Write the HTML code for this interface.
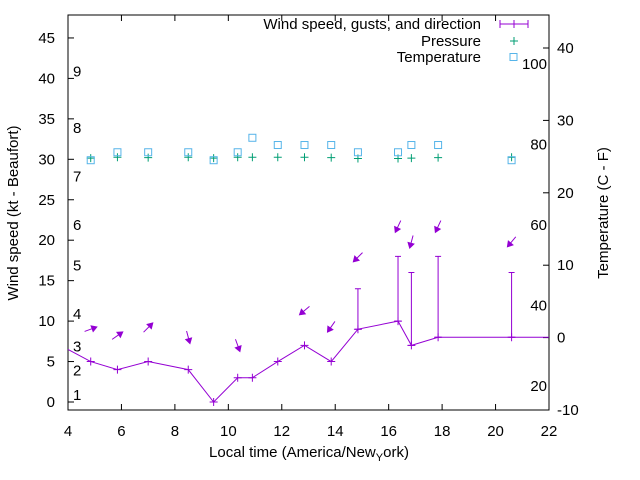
<!DOCTYPE html>
<html><head><meta charset="utf-8"><style>
html,body{margin:0;padding:0;background:#fff;}
svg{display:block;font-family:"Liberation Sans",sans-serif;}
</style></head><body>
<svg id="chart" width="640" height="480" viewBox="0 0 640 480">
<rect x="0" y="0" width="640" height="480" fill="#fff"/>
<g id="axes"></g>
<g id="marks"></g>
<text x="0" y="0" transform="translate(18,213) rotate(-90)" text-anchor="middle" font-size="15" fill="#000">Wind speed (kt - Beaufort)</text>
<text x="0" y="0" transform="translate(608,213) rotate(-90)" text-anchor="middle" font-size="15" fill="#000">Temperature (C - F)</text>
<text x="309" y="457" text-anchor="middle" font-size="15" fill="#000">Local time (America/New<tspan font-size="11" dy="4">Y</tspan><tspan dy="-4">ork)</tspan></text>
<g>
<text x="481" y="29" text-anchor="end" font-size="15">Wind speed, gusts, and direction</text>
<line x1="500" y1="24" x2="528" y2="24" stroke="#9400d3" stroke-width="1"/>
<line x1="500" y1="20" x2="500" y2="28" stroke="#9400d3"/>
<line x1="528" y1="20" x2="528" y2="28" stroke="#9400d3"/>
<path d="M510,24h8M514,20v8" stroke="#9400d3"/>
<text x="481" y="46" text-anchor="end" font-size="15">Pressure</text>
<path d="M510,41h8M514,37v8" stroke="#009e73"/>
<text x="481" y="62" text-anchor="end" font-size="15">Temperature</text>
<rect x="510" y="53.5" width="7" height="7" fill="none" stroke="#56b4e9"/>
</g>
</svg>
<script>
const times = [4.0, 4.85, 5.85, 7.0, 8.5, 9.45, 10.35, 10.9, 11.85, 12.85, 13.85, 14.85, 16.35, 16.85, 17.85, 20.6, 22.0];
const windKt = [6.5, 5, 4, 5, 4, 0, 3, 3, 5, 7, 5, 9, 10, 7, 8, 8, 8];
const gustTimes = [14.85, 16.35, 16.85, 17.85, 20.6];
const gustBase = [9, 10, 7, 8, 8];
const gustKt = [14, 18, 16, 18, 16];
const arrowTimes = [4.85, 5.85, 7.0, 8.5, 10.35, 12.85, 13.85, 14.85, 16.35, 16.85, 17.85, 20.6];
const arrowKt = [9.0, 8.2, 9.2, 8.0, 7.0, 11.3, 9.3, 17.9, 21.7, 19.8, 21.7, 19.8];
const arrowDeg = [70, 55, 45, 165, 160, 230, 215, 225, 205, 195, 205, 220];
const obsTimes = [4.85, 5.85, 7.0, 8.5, 9.45, 10.35, 10.9, 11.85, 12.85, 13.85, 14.85, 16.35, 16.85, 17.85, 20.6];
const pressure = [30.15, 30.25, 30.2, 30.25, 30.15, 30.25, 30.25, 30.25, 30.25, 30.2, 30.1, 30.1, 30.15, 30.2, 30.25];
const tempC = [24.5, 25.6, 25.6, 25.6, 24.5, 25.6, 27.6, 26.6, 26.6, 26.6, 25.6, 25.6, 26.6, 26.6, 24.5];
const xTicks = [4, 6, 8, 10, 12, 14, 16, 18, 20, 22];
const yTicks = [0, 5, 10, 15, 20, 25, 30, 35, 40, 45];
const y2Ticks = [-10, 0, 10, 20, 30, 40];
const fLabels = [20, 40, 60, 80, 100];
const beaufortKt = [1, 4, 7, 11, 17, 22, 28, 34, 41];

const L = 68, R = 549, T = 15, B = 410;
const xs = t => L + (t - 4) / 18 * (R - L);
const ys = v => 402 - v * 8.09;
const y2 = c => 337.6 - c * 7.24;
const NS = "http://www.w3.org/2000/svg";
const axes = document.getElementById('axes');
const marks = document.getElementById('marks');
function mk(tag, attrs, parent) {
  const e = document.createElementNS(NS, tag);
  for (const k in attrs) e.setAttribute(k, attrs[k]);
  parent.appendChild(e);
  return e;
}
const frame = mk('rect', {x: L, y: T, width: R - L, height: B - T, fill: 'none', stroke: '#000'}, axes);


xTicks.forEach(t => {
  const x = xs(t);
  const tk = mk('path', {d: `M${x},${B}v-6M${x},${T}v6`, stroke: '#000'}, axes);
  
  
  const lb = mk('text', {x: x, y: 436, 'text-anchor': 'middle', 'font-size': 15}, axes);
  lb.textContent = t;
  
  
});
yTicks.forEach(v => {
  const y = ys(v);
  const tk = mk('path', {d: `M${L},${y}h6`, stroke: '#000'}, axes);
  
  
  const lb = mk('text', {x: 55, y: y + 5, 'text-anchor': 'end', 'font-size': 15}, axes);
  lb.textContent = v;
  
  
});
y2Ticks.forEach(c => {
  const y = y2(c);
  const tk = mk('path', {d: `M${R},${y}h-6`, stroke: '#000'}, axes);
  
  
  const lb = mk('text', {x: 557, y: y + 5, 'text-anchor': 'start', 'font-size': 15}, axes);
  lb.textContent = c;
  
  
});
fLabels.forEach(f => {
  const y = y2((f - 32) * 5 / 9);
  const lb = mk('text', {x: 547, y: y + 5, 'text-anchor': 'end', 'font-size': 15}, axes);
  lb.textContent = f;
  
  
});
beaufortKt.forEach((k, i) => {
  const lb = mk('text', {x: 73, y: ys(k) + 6, 'text-anchor': 'start', 'font-size': 15}, axes);
  lb.textContent = i + 1;
  
  
});
// wind line
const pts = times.map((t, i) => `${xs(t)},${ys(windKt[i])}`).join(' ');
const line = mk('polyline', {points: pts, fill: 'none', stroke: '#9400d3', 'stroke-width': 1}, marks);


times.forEach((t, i) => {
  if (t <= 4 || t >= 22) return;
  const x = xs(t), y = ys(windKt[i]);
  const p = mk('path', {d: `M${x-4},${y}h8M${x},${y-4}v8`, stroke: '#9400d3'}, marks);
  
  
});
gustTimes.forEach((t, i) => {
  const x = xs(t), yb = ys(gustBase[i]), yg = ys(gustKt[i]);
  const g = mk('path', {d: `M${x},${yb}V${yg}M${x-3},${yg}h6M${x-3},${yb}h6`, stroke: '#9400d3'}, marks);
  
  
});
arrowTimes.forEach((t, i) => {
  const cx = xs(t), cy = ys(arrowKt[i]);
  const a = arrowDeg[i] * Math.PI / 180;
  const dx = Math.sin(a), dy = -Math.cos(a);
  const len = 13;
  const x1 = cx - dx * len / 2, y1 = cy - dy * len / 2;
  const x2 = cx + dx * len / 2, y2p = cy + dy * len / 2;
  const px = -dy, py = dx;
  const hx = x2 - dx * 5, hy = y2p - dy * 5;
  const ar = mk('path', {d: `M${x1},${y1}L${x2},${y2p}M${x2},${y2p}L${hx + px * 3},${hy + py * 3}L${hx - px * 3},${hy - py * 3}Z`, stroke: '#9400d3', fill: '#9400d3', 'stroke-width': 1}, marks);
  
  
});
obsTimes.forEach((t, i) => {
  const x = xs(t), y = ys(pressure[i]);
  const p = mk('path', {d: `M${x-4},${y}h8M${x},${y-4}v8`, stroke: '#009e73'}, marks);
  
  
  const ty = y2(tempC[i]);
  const r = mk('rect', {x: x - 3.5, y: ty - 3.5, width: 7, height: 7, fill: 'none', stroke: '#56b4e9'}, marks);
  
  
});
</script>
</body></html>
